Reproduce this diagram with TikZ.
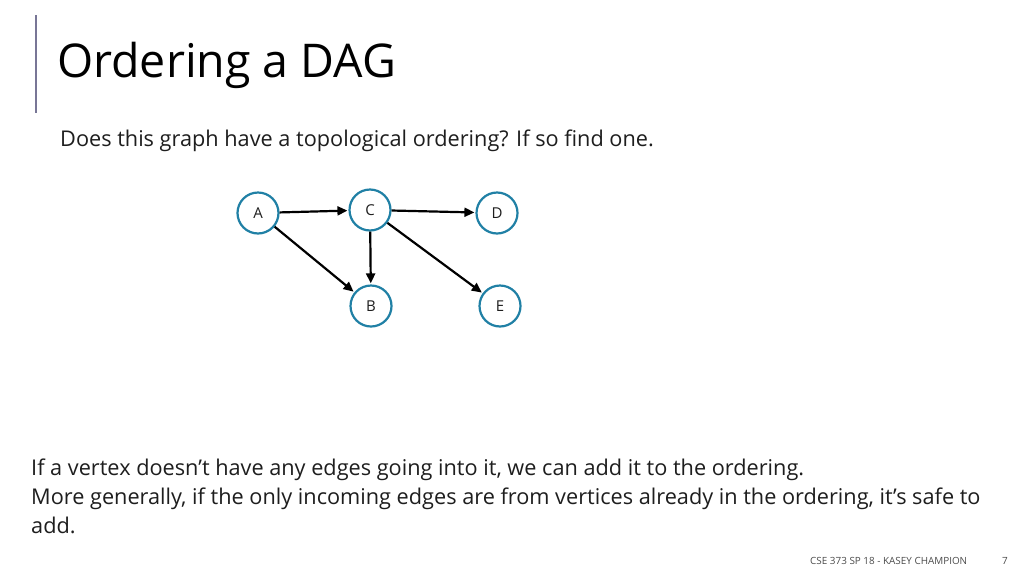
\documentclass[tikz,border=0pt]{standalone}
\usepackage{fontspec}
\setmainfont{Open Sans}
\usetikzlibrary{arrows.meta}
\definecolor{ring}{RGB}{32,128,165}
\definecolor{barc}{RGB}{120,118,150}
\definecolor{txt}{RGB}{30,30,30}
\tikzset{
  vert/.style={circle,draw=ring,line width=2.2pt,fill=white,minimum size=41pt,inner sep=0pt,font=\fontsize{15}{17}\selectfont,text=txt},
  edge/.style={line width=2.2pt,draw=black,-{Triangle[length=10pt,width=9pt]},shorten >=1pt},
  txtline/.style={anchor=base west,inner sep=0pt,text=txt},
}
\begin{document}
\begin{tikzpicture}[x=1pt,y=-1pt]
\useasboundingbox[fill=white] (0,0) rectangle (1024,576);
\draw[barc,line width=1.5pt] (36,15) -- (36,113);
\node[txtline,font=\fontsize{46.5}{52}\selectfont,text=black] (title) at (57,77) {Ordering a DAG};
\node[txtline,font=\fontsize{21.7}{26}\selectfont] (q) at (60,146) {Does this graph have a topological ordering? If so find one.};
\node[vert] (A) at (258,213) {A};
\node[vert] (C) at (370,210) {C};
\node[vert] (D) at (497,213) {D};
\node[vert] (B) at (371,306) {B};
\node[vert] (E) at (500,306) {E};
\draw[edge] (A) -- (C);
\draw[edge] (C) -- (D);
\draw[edge] (A) -- (B);
\draw[edge] (C) -- (B);
\draw[edge] (C) -- (E);
\node[txtline,font=\fontsize{21.7}{26}\selectfont] (l1) at (31,475) {If a vertex doesn’t have any edges going into it, we can add it to the ordering.};
\node[txtline,font=\fontsize{21.7}{26}\selectfont] (l2) at (31,504) {More generally, if the only incoming edges are from vertices already in the ordering, it’s safe to};
\node[txtline,font=\fontsize{21.7}{26}\selectfont] (l3) at (31,533) {add.};
\node[txtline,font=\fontsize{9.9}{11}\selectfont,text=black!70] (foot) at (810,564) {CSE 373 SP 18 - KASEY CHAMPION};
\node[txtline,font=\fontsize{9.9}{11}\selectfont,text=black!70] (pg) at (1002,564) {7};
\end{tikzpicture}
\end{document}
